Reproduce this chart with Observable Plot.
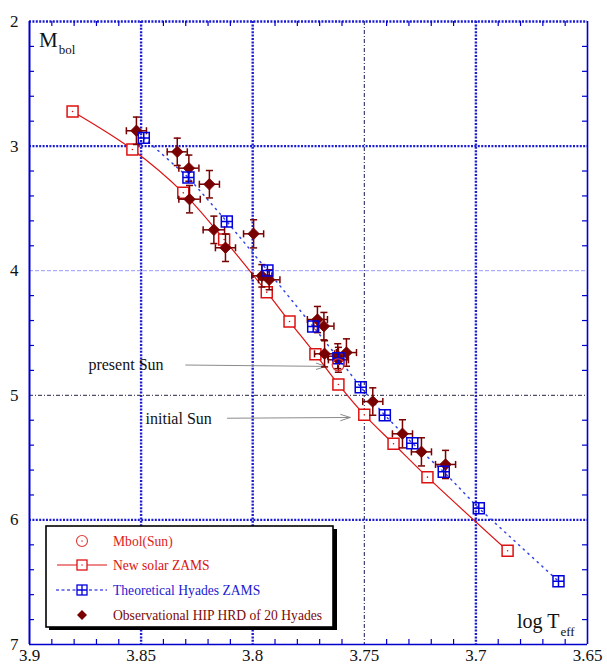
<!DOCTYPE html>
<html><head><meta charset="utf-8">
<script src="https://cdn.jsdelivr.net/npm/d3@7"></script>
<script src="https://cdn.jsdelivr.net/npm/@observablehq/plot@0.6"></script>
<style>
body{margin:0;background:#fff}
#chart{position:relative;width:607px;height:668px}
#chart svg text{font-family:'Liberation Serif','Times New Roman',serif}
</style>
</head><body><div id="chart"></div>
<script>
// ---- data ----
const solarT = [3.8807,3.8539,3.8311,3.8128,3.7937,3.7835,3.7719,3.7616,3.7500,3.7369,3.7217,3.6858];
const solarM = [2.722,3.027,3.375,3.750,4.172,4.408,4.670,4.913,5.157,5.389,5.657,6.248];
const hyadesT = [3.8488,3.8288,3.8116,3.7934,3.7729,3.7616,3.7516,3.7408,3.7285,3.7144,3.6987,3.6630];
const hyadesM = [2.934,3.252,3.605,3.998,4.448,4.702,4.935,5.160,5.384,5.614,5.906,6.492];
const hipT = [3.8521,3.8338,3.8286,3.8194,3.8283,3.8174,3.8122,3.7996,3.7959,3.7926,3.7710,3.7681,3.7678,3.7619,3.7616,3.7580,3.7462,3.7329,3.7244,3.7136];
const hipM = [2.877,3.046,3.177,3.306,3.426,3.672,3.816,3.704,4.041,4.073,4.392,4.445,4.667,4.686,4.715,4.657,5.050,5.309,5.454,5.555];
const hipErrT = [0.0045,0.0045,0.0045,0.0045,0.0048,0.0048,0.0045,0.0045,0.0045,0.0048,0.0045,0.0045,0.0045,0.0045,0.0045,0.0045,0.0045,0.0045,0.0045,0.0045];
const hipErrM = [0.11,0.11,0.105,0.11,0.11,0.11,0.11,0.113,0.09,0.08,0.105,0.11,0.105,0.1,0.1,0.11,0.11,0.113,0.113,0.113];
const sunT = [3.7617];
const sunM = [4.755];
const annLabels = ["present Sun","initial Sun"];
const annTextT = [3.8736,3.8480];
const annTextM = [4.753,5.186];
const annFromT = [3.8300,3.8113];
const annToT = [3.7672,3.7563];
const annFromM = [4.757,5.184];
const annToM = [4.768,5.178];

const xTicks = [3.9,3.85,3.8,3.75,3.7,3.65];
const yTicks = [2,3,4,5,6,7];
const xMinor = [3.89,3.88,3.87,3.86,3.84,3.83,3.82,3.81,3.79,3.78,3.77,3.76,3.74,3.73,3.72,3.71,3.69,3.68,3.67,3.66];
const yMinor = [2.2,2.4,2.6,2.8,3.2,3.4,3.6,3.8,4.2,4.4,4.6,4.8,5.2,5.4,5.6,5.8,6.2,6.4,6.6,6.8];
const gridXThick = [3.85,3.8,3.7];
const gridXThin = [3.75];
const gridYThick = [3,6];
const gridYLight = [4];
const gridYDark = [5];

const legendLabels = ["Mbol(Sun)","New solar ZAMS","Theoretical Hyades ZAMS","Observational HIP HRD of 20 Hyades"];

// ---- tables ----
const solar = solarT.map((t,i)=>({t, m: solarM[i]}));
const hyades = hyadesT.map((t,i)=>({t, m: hyadesM[i]}));
const hip = hipT.map((t,i)=>({t, m: hipM[i], et: hipErrT[i], em: hipErrM[i]}));
const sun = sunT.map((t,i)=>({t, m: sunM[i]}));
const ann = annLabels.map((label,i)=>({label, tx: annTextT[i], ty: annTextM[i], x1: annFromT[i], y1: annFromM[i], x2: annToT[i], y2: annToM[i]}));

// ---- custom symbols ----
const squarePlus = {draw(ctx, size){ const s = Math.sqrt(size)/2;
  ctx.moveTo(-s,-s); ctx.lineTo(s,-s); ctx.lineTo(s,s); ctx.lineTo(-s,s); ctx.closePath();
  ctx.moveTo(0,-s); ctx.lineTo(0,s); ctx.moveTo(-s,0); ctx.lineTo(s,0); }};
const hcap = {draw(ctx,size){ const s = Math.sqrt(size)/2; ctx.moveTo(-s,0); ctx.lineTo(s,0); }};
const vcap = {draw(ctx,size){ const s = Math.sqrt(size)/2; ctx.moveTo(0,-s); ctx.lineTo(0,s); }};

const W = 607, H = 668, mL = 29, mR = 20, mT = 21, mB = 24;
const pw = W - mL - mR, ph = H - mT - mB;
const BLUE = "#0000cc", DOT = "#1c1cd0", RED = "#dd1111", HB = "#0000dd", DR = "#780000";
const serif = "'Liberation Serif', 'Times New Roman', serif";
const thick = {stroke: DOT, strokeWidth: 2.4, strokeDasharray: "2,1.4"};

const plot = Plot.plot({
  width: W, height: H,
  marginLeft: mL, marginRight: mR, marginTop: mT, marginBottom: mB,
  x: {domain: [3.9, 3.65]},
  y: {domain: [2, 7], reverse: true},
  style: {fontFamily: serif, fontSize: "17px", color: "#111", background: "white"},
  marks: [
    Plot.ruleX(gridXThick, thick),
    Plot.ruleX(gridXThin, {stroke: "#1a1a55", strokeWidth: 1, strokeDasharray: "4,2,1,2"}),
    Plot.ruleY(gridYThick, thick),
    Plot.ruleY(gridYLight, {stroke: "#9a9aff", strokeWidth: 1, strokeDasharray: "4,2"}),
    Plot.ruleY(gridYDark, {stroke: "#222244", strokeWidth: 1, strokeDasharray: "4,2,1,2"}),
    Plot.ruleY([yTicks[0]], thick),
    Plot.ruleX([xTicks[0]], {stroke: BLUE, strokeWidth: 2}),
    Plot.ruleX([xTicks[xTicks.length-1]], {stroke: BLUE, strokeWidth: 1.6}),
    Plot.ruleY([yTicks[yTicks.length-1]], {stroke: BLUE, strokeWidth: 1.6}),
    Plot.ruleX(xMinor, {stroke: BLUE, strokeWidth: 1.2, insetTop: ph - 5}),
    Plot.ruleX(xMinor, {stroke: BLUE, strokeWidth: 1.2, insetBottom: ph - 5}),
    Plot.ruleY(yMinor, {stroke: BLUE, strokeWidth: 1.2, insetRight: pw - 5}),
    Plot.ruleY(yMinor, {stroke: BLUE, strokeWidth: 1.2, insetLeft: pw - 5}),
    Plot.axisX(xTicks, {tickSize: 0, tickPadding: 4, tickFormat: d => String(d), fill: "#111", fontFamily: serif, fontSize: 17}),
    Plot.axisY(yTicks, {tickSize: 0, tickPadding: 11, tickFormat: d => String(d), fill: "#111", fontFamily: serif, fontSize: 17}),
    // annotations
    Plot.arrow(ann, {x1: "x1", y1: "y1", x2: "x2", y2: "y2", stroke: "#8a8a8a", strokeWidth: 1, headLength: 15, headAngle: 36}),
    Plot.text(ann, {x: "tx", y: "ty", text: "label", textAnchor: "start", fontSize: 16, fontFamily: serif, fill: "#111"}),
    // new solar ZAMS
    Plot.line(solar, {x: "t", y: "m", curve: "catmull-rom", stroke: RED, strokeWidth: 1.2}),
    // theoretical Hyades ZAMS
    Plot.line(hyades, {x: "t", y: "m", stroke: "#3344e8", strokeWidth: 1.5, strokeDasharray: "1.3,5"}),
    Plot.dot(solar, {x: "t", y: "m", symbol: "square", r: 6.2, stroke: RED, strokeWidth: 1.5, fill: "white"}),
    Plot.dot(solar, {x: "t", y: "m", r: 0.8, fill: RED}),
    // HIP observations
    Plot.ruleX(hip, {x: "t", y1: d => d.m - d.em, y2: d => d.m + d.em, stroke: DR, strokeWidth: 1.5}),
    Plot.ruleY(hip, {y: "m", x1: d => d.t - d.et, x2: d => d.t + d.et, stroke: DR, strokeWidth: 1.5}),
    Plot.dot(hip, {x: "t", y: d => d.m - d.em, symbol: hcap, r: 4, stroke: DR, strokeWidth: 1.5}),
    Plot.dot(hip, {x: "t", y: d => d.m + d.em, symbol: hcap, r: 4, stroke: DR, strokeWidth: 1.5}),
    Plot.dot(hip, {x: d => d.t - d.et, y: "m", symbol: vcap, r: 4, stroke: DR, strokeWidth: 1.5}),
    Plot.dot(hip, {x: d => d.t + d.et, y: "m", symbol: vcap, r: 4, stroke: DR, strokeWidth: 1.5}),
    Plot.dot(hip, {x: "t", y: "m", symbol: "diamond2", r: 5.2, fill: DR, stroke: DR, strokeWidth: 0.8}),
    Plot.dot(hyades, {x: "t", y: "m", symbol: squarePlus, r: 6.2, stroke: HB, strokeWidth: 1.5, fill: "none"}),
    // Sun
    Plot.dot(sun, {x: "t", y: "m", r: 6, stroke: "#e03838", strokeWidth: 1.2, fill: "none"}),
    Plot.dot(sun, {x: "t", y: "m", r: 0.8, fill: "#e03838"})
  ]
});
document.getElementById("chart").append(plot);

// ---- axis titles & legend ----
const svg = d3.select(plot);
const t1 = svg.append("text").attr("x", 39).attr("y", 47).attr("text-anchor", "start").attr("font-family", serif).attr("fill", "#111");
t1.append("tspan").attr("font-size", 21).text("M");
t1.append("tspan").attr("font-size", 13).attr("dy", 7).attr("dx", 1).text("bol");
const t2 = svg.append("text").attr("x", 517).attr("y", 628).attr("text-anchor", "start").attr("font-family", serif).attr("fill", "#111");
t2.append("tspan").attr("font-size", 20).text("log T");
t2.append("tspan").attr("font-size", 13).attr("dy", 8).attr("dx", 1).text("eff");

const lg = svg.append("g");
lg.append("rect").attr("x", 49).attr("y", 529).attr("width", 288).attr("height", 101).attr("fill", "#000");
lg.append("rect").attr("x", 46).attr("y", 526).attr("width", 287).attr("height", 101).attr("fill", "white").attr("stroke", "#000").attr("stroke-width", 1.6);
const rowsY = [541, 565, 590, 615];
const colors = ["#dd2222", "#dd1111", "#1a1ad0", "#7a0a0a"];
const sx = 82;
lg.append("circle").attr("cx", sx).attr("cy", rowsY[0]).attr("r", 5.5).attr("fill", "none").attr("stroke", "#e03838").attr("stroke-width", 1.1);
lg.append("circle").attr("cx", sx).attr("cy", rowsY[0]).attr("r", 0.8).attr("fill", "#e03838");
lg.append("line").attr("x1", 57).attr("x2", 107).attr("y1", rowsY[1]).attr("y2", rowsY[1]).attr("stroke", RED).attr("stroke-width", 1.2);
lg.append("rect").attr("x", sx - 5).attr("y", rowsY[1] - 5).attr("width", 10).attr("height", 10).attr("fill", "white").attr("stroke", RED).attr("stroke-width", 1.3);
lg.append("circle").attr("cx", sx).attr("cy", rowsY[1]).attr("r", 0.7).attr("fill", RED);
lg.append("line").attr("x1", 56).attr("x2", 107).attr("y1", rowsY[2]).attr("y2", rowsY[2]).attr("stroke", HB).attr("stroke-width", 1).attr("stroke-dasharray", "3,2.5");
lg.append("rect").attr("x", sx - 5).attr("y", rowsY[2] - 5).attr("width", 10).attr("height", 10).attr("fill", "white").attr("stroke", HB).attr("stroke-width", 1.3);
lg.append("path").attr("d", `M${sx},${rowsY[2]-5}V${rowsY[2]+5}M${sx-5},${rowsY[2]}H${sx+5}`).attr("stroke", HB).attr("stroke-width", 1.3);
lg.append("path").attr("d", `M${sx},${rowsY[3]-5}L${sx+5},${rowsY[3]}L${sx},${rowsY[3]+5}L${sx-5},${rowsY[3]}Z`).attr("fill", DR);
legendLabels.forEach((lab, i) => {
  lg.append("text").attr("x", 113).attr("y", rowsY[i]).attr("dy", "0.35em").attr("text-anchor", "start")
    .attr("font-family", serif).attr("font-size", 13.6).attr("fill", colors[i]).text(lab);
});
</script></body></html>
